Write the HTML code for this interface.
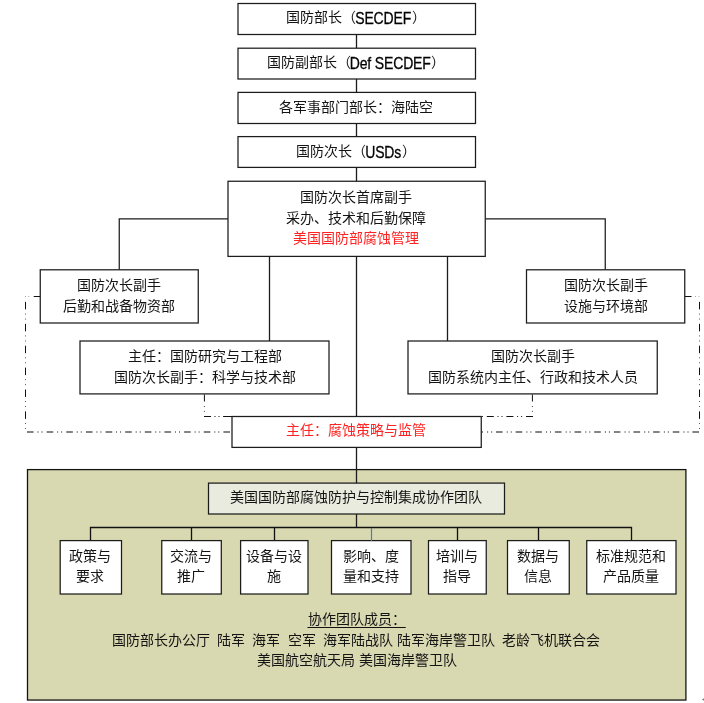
<!DOCTYPE html>
<html lang="zh-CN">
<head>
<meta charset="utf-8">
<title>美国国防部腐蚀管理组织结构</title>
<style>
html,body{margin:0;padding:0;background:#fff;}
body{width:704px;height:703px;position:relative;overflow:hidden;font-family:"Liberation Sans",sans-serif;color:#141414;}
svg{position:absolute;left:0;top:0;}
.t{position:absolute;will-change:transform;text-align:center;font-size:14px;line-height:20px;height:20px;white-space:nowrap;}
.l{font-family:"Liberation Sans",sans-serif;color:#000;display:inline-block;transform:translate(-0.8px,1.1px) scaleY(1.2);transform-origin:50% 62%;-webkit-text-stroke:0.25px #000;letter-spacing:-0.15px;}
.r{color:#ff2222;}
.g{display:inline-block;width:7.4px;}
</style>
</head>
<body>
<svg width="704" height="703" viewBox="0 0 704 703" fill="none" stroke="#1c1c1c" stroke-width="1.3">
<rect x="27.5" y="469.6" width="658.4" height="230.45" fill="#d8d8b1" stroke="#141414"/>
<path d="M701.8 699.5L704 698.2V700.8Z" fill="#7a7a7a" stroke="none"/>
<path d="M356.5 34.5V48.2M356.5 79V92.4M356.5 123.5V136.6M356.5 167.4V181.25"/>
<path d="M356.5 256.4V527.5"/>
<path d="M228 218.75H119.25V269.8M485.25 218.75H605.25V269.8" stroke-width="1.25"/>
<path d="M269.5 256.4V341M447.5 256.4V341"/>
<path d="M90.5 540.6V527.5H631.5V540.6M191.5 527.5V540.6M274.5 527.5V540.6M457.5 527.5V540.6M538.5 527.5V540.6" stroke="#111"/>
<path d="M40.25 296.5H33.75" stroke="#111" stroke-width="1"/>
<path d="M29.3 296.5h-1M26 296.5h-1" stroke="#aaa" stroke-width="1"/>
<path d="M25.5 301.9V431" stroke="#111" stroke-width="1" stroke-dasharray="7.5 4.3 0.7 4.3 0.7 4.4"/>
<path d="M27 432H232" stroke="#0a0a0a" stroke-width="1.15" stroke-dasharray="6.6 3.9 1 3 1 4.14"/>
<path d="M684.75 296.5H691.5" stroke="#111" stroke-width="1"/>
<path d="M695 296.5h1M698.5 296.5h1" stroke="#aaa" stroke-width="1"/>
<path d="M699.5 301.9V431" stroke="#111" stroke-width="1" stroke-dasharray="7.5 4.3 0.7 4.3 0.7 4.4"/>
<path d="M699 432H481.5" stroke="#0a0a0a" stroke-width="1.15" stroke-dasharray="6.6 3.9 1 3 1 4.14"/>
<path d="M204.4 394.4V416.5" stroke="#111" stroke-width="1" stroke-dasharray="7.1 4.6 0.8 4 0.8 4.8"/>
<path d="M204 416.5H232" stroke="#111" stroke-width="1" stroke-dasharray="7 3.5 1 3 1 3.6 9"/>
<path d="M532.4 394.4V416.5" stroke="#111" stroke-width="1" stroke-dasharray="7.1 4.6 0.8 4 0.8 4.8"/>
<path d="M533 416.5H481.25" stroke="#111" stroke-width="1" stroke-dasharray="7 3.9 1 3 1 3.7"/>
<path d="M307.5 627.5H405.75" stroke="#111" stroke-width="1.1"/>
<g stroke-width="1.25">
<rect x="238.00" y="3.50" width="237.50" height="31.00" fill="#fff"/>
<rect x="238.00" y="48.20" width="237.50" height="30.80" fill="#fff"/>
<rect x="238.00" y="92.40" width="237.50" height="31.10" fill="#fff"/>
<rect x="238.00" y="136.60" width="237.50" height="30.80" fill="#fff"/>
<rect x="228.00" y="181.25" width="257.25" height="75.15" fill="#fff"/>
<rect x="40.25" y="269.80" width="158.00" height="53.20" fill="#fff"/>
<rect x="526.50" y="269.80" width="158.25" height="53.20" fill="#fff"/>
<rect x="80.00" y="341.00" width="249.00" height="52.90" fill="#fff"/>
<rect x="408.00" y="341.00" width="249.25" height="52.90" fill="#fff"/>
<rect x="232.00" y="416.50" width="249.25" height="30.90" fill="#fff"/>
<rect x="208.50" y="483.10" width="296.00" height="30.90" fill="#e8ebde"/>
<rect x="60.20" y="540.60" width="61.30" height="53.40" fill="#fff"/>
<rect x="161.75" y="540.60" width="59.55" height="53.40" fill="#fff"/>
<rect x="240.60" y="540.60" width="67.40" height="53.40" fill="#fff"/>
<rect x="331.50" y="540.60" width="79.50" height="53.40" fill="#fff"/>
<rect x="428.50" y="540.60" width="57.75" height="53.40" fill="#fff"/>
<rect x="507.50" y="540.60" width="61.75" height="53.40" fill="#fff"/>
<rect x="586.75" y="540.60" width="89.25" height="53.40" fill="#fff"/>
</g>
<path d="M371.5 528V541.1" stroke="#3f7bd0" stroke-width="1.15"/>
</svg>
<div class="t" style="left:0px;top:7px;width:712px;">国防部长（<span class="l">SECDEF</span>）</div>
<div class="t" style="left:0px;top:52px;width:712px;">国防副部长（<span class="l">Def SECDEF</span>）</div>
<div class="t" style="left:0px;top:97px;width:712px;">各军事部门部长：海陆空</div>
<div class="t" style="left:0px;top:141px;width:712px;">国防次长（<span class="l">USDs</span>）</div>
<div class="t" style="left:0px;top:187px;width:712px;">国防次长首席副手</div>
<div class="t" style="left:0px;top:208px;width:712px;">采办、技术和后勤保障</div>
<div class="t" style="left:0px;top:228px;width:712px;"><span class="r">美国国防部腐蚀管理</span></div>
<div class="t" style="left:40.25px;top:275px;width:158.00px;">国防次长副手</div>
<div class="t" style="left:40.25px;top:296px;width:158.00px;">后勤和战备物资部</div>
<div class="t" style="left:526.50px;top:275px;width:158.25px;">国防次长副手</div>
<div class="t" style="left:526.50px;top:296px;width:158.25px;">设施与环境部</div>
<div class="t" style="left:80.00px;top:346px;width:249.00px;">主任：国防研究与工程部</div>
<div class="t" style="left:80.00px;top:367px;width:249.00px;">国防次长副手：科学与技术部</div>
<div class="t" style="left:408.00px;top:346px;width:249.25px;">国防次长副手</div>
<div class="t" style="left:408.00px;top:367px;width:249.25px;">国防系统内主任、行政和技术人员</div>
<div class="t" style="left:0px;top:420px;width:712px;"><span class="r">主任：腐蚀策略与监管</span></div>
<div class="t" style="left:0px;top:487px;width:712px;">美国国防部腐蚀防护与控制集成协作团队</div>
<div class="t" style="left:59.20px;top:546px;width:61.30px;">政策与</div>
<div class="t" style="left:59.20px;top:566px;width:61.30px;">要求</div>
<div class="t" style="left:160.75px;top:546px;width:59.55px;">交流与</div>
<div class="t" style="left:160.75px;top:566px;width:59.55px;">推广</div>
<div class="t" style="left:239.60px;top:546px;width:67.40px;">设备与设</div>
<div class="t" style="left:239.60px;top:566px;width:67.40px;">施</div>
<div class="t" style="left:330.50px;top:546px;width:79.50px;">影响、度</div>
<div class="t" style="left:330.50px;top:566px;width:79.50px;">量和支持</div>
<div class="t" style="left:427.50px;top:546px;width:57.75px;">培训与</div>
<div class="t" style="left:427.50px;top:566px;width:57.75px;">指导</div>
<div class="t" style="left:506.50px;top:546px;width:61.75px;">数据与</div>
<div class="t" style="left:506.50px;top:566px;width:61.75px;">信息</div>
<div class="t" style="left:585.75px;top:546px;width:89.25px;">标准规范和</div>
<div class="t" style="left:585.75px;top:566px;width:89.25px;">产品质量</div>
<div class="t" style="left:27.5px;top:609px;width:658px;">协作团队成员：</div>
<div class="t" style="left:27px;top:630px;width:658px;">国防部长办公厅<span class="g"></span>陆军<span class="g"></span>海军<span class="g"></span>空军<span class="g"></span>海军陆战队 陆军海岸警卫队<span class="g"></span>老龄飞机联合会</div>
<div class="t" style="left:27.5px;top:650px;width:658px;">美国航空航天局 美国海岸警卫队</div>
</body>
</html>
